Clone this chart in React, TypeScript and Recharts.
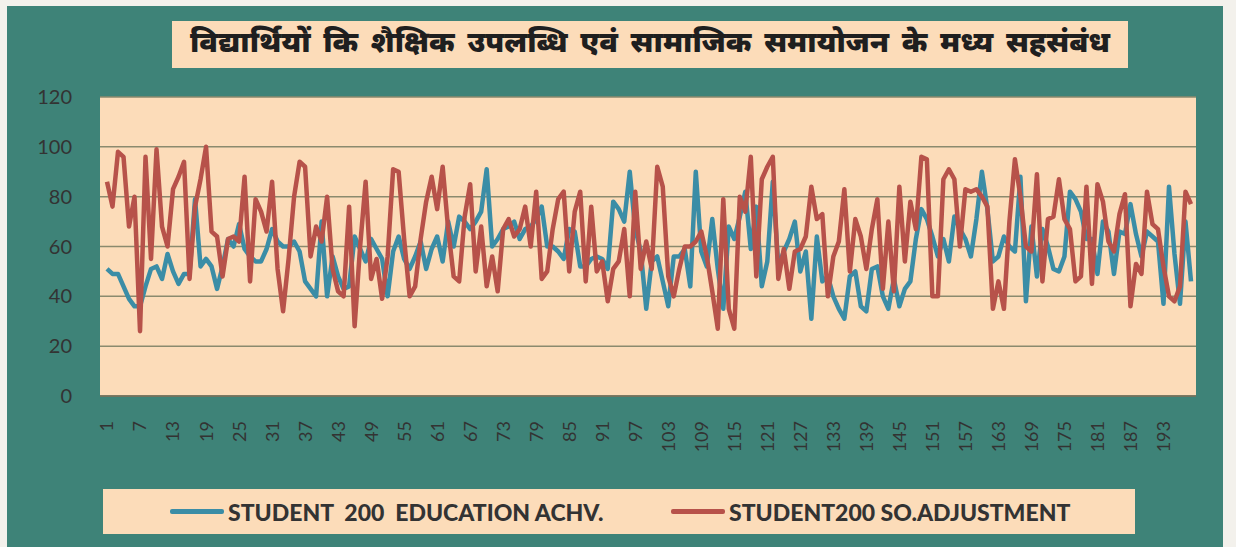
import React from 'react';
import { LineChart, Line, XAxis, YAxis, CartesianGrid } from 'recharts';

// scores, student 1..198
const educationAchv = [
  51, 49, 49, 44, 39, 36, 36, 44, 51, 52,
  47, 57, 50, 45, 49, 49, 79, 52, 55, 52,
  43, 52, 63, 60, 69, 59, 56, 54, 54, 59,
  67, 62, 60, 60, 62, 58, 46, 43, 40, 70,
  40, 56, 48, 43, 44, 64, 59, 54, 63, 59,
  55, 40, 58, 64, 55, 51, 56, 62, 51, 59,
  64, 54, 70, 60, 72, 70, 67, 70, 74, 91,
  60, 63, 67, 68, 70, 63, 67, 68, 71, 76,
  60, 60, 58, 55, 67, 66, 52, 52, 55, 56,
  55, 51, 78, 75, 70, 90, 67, 58, 35, 54,
  56, 46, 36, 56, 56, 59, 44, 90, 58, 52,
  71, 51, 35, 68, 63, 72, 82, 59, 76, 44,
  54, 86, 52, 58, 63, 70, 50, 58, 31, 64,
  46, 48, 40, 35, 31, 48, 50, 36, 34, 51,
  52, 40, 35, 47, 36, 43, 46, 63, 75, 71,
  64, 56, 63, 54, 72, 67, 63, 56, 71, 90,
  75, 54, 56, 64, 60, 58, 88, 38, 68, 48,
  67, 60, 51, 50, 56, 82, 79, 74, 63, 63,
  49, 70, 66, 49, 66, 65, 77, 65, 56, 66,
  64, 62, 37, 84, 57, 37, 70, 46,
];

const socialAdjustment = [
  86, 76, 98, 96, 68, 80, 26, 96, 55, 99,
  68, 60, 83, 88, 94, 47, 76, 87, 100, 66,
  64, 48, 63, 64, 62, 88, 46, 79, 74, 66,
  86, 51, 34, 55, 80, 94, 92, 56, 68, 62,
  80, 51, 42, 40, 76, 28, 60, 86, 47, 55,
  39, 56, 91, 90, 63, 40, 44, 63, 78, 88,
  75, 92, 67, 48, 46, 72, 85, 50, 68, 44,
  56, 42, 67, 71, 64, 67, 76, 60, 82, 47,
  50, 67, 79, 82, 50, 74, 82, 46, 76, 50,
  54, 38, 51, 54, 67, 40, 82, 51, 62, 51,
  92, 84, 48, 40, 51, 60, 60, 62, 66, 56,
  42, 27, 79, 35, 27, 80, 74, 96, 48, 87,
  92, 96, 47, 59, 43, 58, 59, 64, 84, 71,
  73, 40, 56, 62, 83, 50, 71, 64, 51, 67,
  79, 43, 70, 42, 84, 54, 78, 67, 96, 95,
  40, 40, 87, 91, 87, 60, 83, 82, 83, 80,
  76, 35, 46, 35, 70, 95, 80, 60, 58, 89,
  46, 71, 72, 87, 71, 67, 46, 48, 84, 45,
  85, 78, 62, 58, 73, 81, 36, 53, 49, 82,
  69, 67, 52, 40, 38, 44, 82, 77,
];

const studentIds = educationAchv.map((_, i) => i + 1);
const yTicks = [0, 20, 40, 60, 80, 100, 120];

const TITLE = 'विद्यार्थियों कि शैक्षिक उपलब्धि एवं सामाजिक समायोजन के मध्य सहसंबंध';
const SERIES_EDU = 'STUDENT  200  EDUCATION ACHV.';
const SERIES_ADJ = 'STUDENT200 SO.ADJUSTMENT';

const TEAL = '#3e8378';
const PEACH = '#fcdcb9';
const BLUE = '#3b8da6';
const RED = '#b7524a';
const TEXT = '#333333';
const FONT = 'Lato, "Open Sans", sans-serif';

const data = studentIds.map((id, i) => ({
  id,
  edu: educationAchv[i],
  adj: socialAdjustment[i],
}));

const XTick = ({ x, y, payload }: any) => (
  <text
    x={x}
    y={y}
    transform={`rotate(-90 ${x} ${y})`}
    textAnchor="end"
    dy="0.36em"
    fill={TEXT}
    fontSize={18}
    fontFamily={FONT}
  >
    {payload.value}
  </text>
);

const LegendItem = ({ color, label }: { color: string; label: string }) => (
  <div style={{ display: 'flex', alignItems: 'center' }}>
    <div style={{ width: 54, height: 5, background: color, borderRadius: 2, marginRight: 4 }} />
    <span style={{ whiteSpace: 'pre' }}>{label}</span>
  </div>
);

export default function App() {
  return (
    <div style={{ position: 'fixed', left: 0, top: 0, width: 1236, height: 547, background: '#f3f1ec', overflow: 'hidden' }}>
      <div style={{ position: 'absolute', left: 7, top: 6, width: 1216, height: 541, background: TEAL }} />

      <div
        style={{
          position: 'absolute', left: 172, top: 21, width: 956, height: 47, background: PEACH,
          display: 'flex', alignItems: 'center', justifyContent: 'center',
          fontFamily: '"Noto Sans Devanagari", "Noto Sans", sans-serif', fontWeight: 900,
          fontSize: 29.5, wordSpacing: 5, color: '#1f1f1f', whiteSpace: 'nowrap',
        }}
      >
        {TITLE}
      </div>

      <div style={{ position: 'absolute', left: 0, top: 0 }}>
        <LineChart width={1236} height={547} data={data} margin={{ top: 97, right: 40, bottom: 0, left: 0 }}>
          <CartesianGrid vertical={false} fill={PEACH} stroke="#8b8a6e" strokeWidth={1.5} />
          <XAxis
            dataKey="id"
            interval={5}
            height={151}
            padding={{ left: 7, right: 5 }}
            tickSize={0}
            tickMargin={25}
            tickLine={false}
            axisLine={{ stroke: '#6e6d58', strokeWidth: 1.5 }}
            tick={<XTick />}
          />
          <YAxis
            domain={[0, 120]}
            ticks={yTicks}
            width={100}
            tickSize={0}
            tickMargin={28}
            tickLine={false}
            axisLine={false}
            tick={{ fill: TEXT, fontSize: 20, fontFamily: FONT }}
          />
          <Line dataKey="edu" name={SERIES_EDU} stroke={BLUE} strokeWidth={4.5} dot={false} isAnimationActive={false} strokeLinejoin="round" />
          <Line dataKey="adj" name={SERIES_ADJ} stroke={RED} strokeWidth={4.5} dot={false} isAnimationActive={false} strokeLinejoin="round" />
        </LineChart>
      </div>

      <div
        style={{
          position: 'absolute', left: 103, top: 489, width: 1032, height: 45, background: PEACH,
          display: 'flex', alignItems: 'center', fontFamily: FONT, fontWeight: 900, fontSize: 23, color: TEXT,
        }}
      >
        <div style={{ marginLeft: 67 }}>
          <LegendItem color={BLUE} label={SERIES_EDU} />
        </div>
        <div style={{ position: 'absolute', left: 568 }}>
          <LegendItem color={RED} label={SERIES_ADJ} />
        </div>
      </div>
    </div>
  );
}
